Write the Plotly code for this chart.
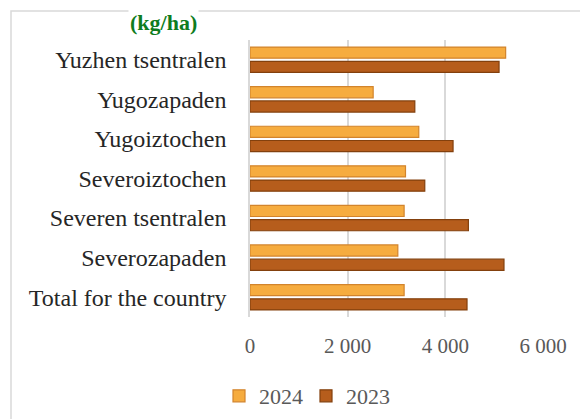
import plotly.graph_objects as go

regions = [
    "Total for the country",
    "Severozapaden",
    "Severen tsentralen",
    "Severoiztochen",
    "Yugoiztochen",
    "Yugozapaden",
    "Yuzhen tsentralen",
]
yield_2024 = [3156, 3027, 3156, 3184, 3456, 2522, 5235]
yield_2023 = [4444, 5201, 4472, 3579, 4158, 3375, 5100]

# the page body has an 8px margin, so work in page pixels and shift
OFF = 8
FIG_W, FIG_H = 588 - OFF, 419 - OFF
L, R, T, B = 250 - OFF, 543 - OFF, 40 - OFF, 317 - OFF
W, H = R - L, B - T


def px_x(p):
    return (p - OFF - L) / W


def px_y(p):
    return (B - (p - OFF)) / H


fig = go.Figure()

# 2023 first so it sits below 2024 inside each group
fig.add_trace(go.Bar(
    y=regions, x=yield_2023, name="2023", orientation="h",
    marker=dict(color="#B65D1C", line=dict(color="#83400D", width=1.2)),
))
fig.add_trace(go.Bar(
    y=regions, x=yield_2024, name="2024", orientation="h",
    marker=dict(color="#F6AC3F", line=dict(color="#D2842C", width=1.2)),
))

fig.update_layout(
    width=FIG_W,
    height=FIG_H,
    margin=dict(l=L, r=FIG_W - R, t=T, b=FIG_H - B, autoexpand=False),
    paper_bgcolor="white",
    plot_bgcolor="white",
    barmode="group",
    bargap=0.28,
    bargroupgap=0.22,
    separators=". ",
    font=dict(family="Liberation Serif, Times New Roman, serif", size=22, color="#595959"),
    showlegend=True,
    legend=dict(
        orientation="h",
        traceorder="reversed",
        x=px_x(219), xanchor="left",
        y=px_y(396), yanchor="middle",
        font=dict(size=22, color="#595959"),
        entrywidth=42,
        bgcolor="rgba(0,0,0,0)",
    ),
    shapes=[
        dict(
            type="rect", xref="paper", yref="paper",
            x0=px_x(11), x1=px_x(700), y0=px_y(600), y1=px_y(11),
            line=dict(color="#D9D9D9", width=1.5),
            fillcolor="rgba(0,0,0,0)", layer="below",
        )
    ],
    annotations=[
        dict(
            text="<b>(kg/ha)</b>", xref="paper", yref="paper",
            x=px_x(163), y=px_y(8), xanchor="center", yanchor="top",
            showarrow=False,
            bgcolor="white",
            font=dict(size=22, color="#0E7C20", family="Liberation Serif, Times New Roman, serif"),
        )
    ],
)

fig.update_xaxes(
    range=[0, 6000],
    dtick=2000,
    tickformat=",d",
    showgrid=True,
    gridcolor="#D9D9D9",
    gridwidth=1.5,
    zeroline=False,
    showline=False,
    ticks="",
    ticklabelstandoff=14,
    tickfont=dict(size=21, color="#595959"),
)
fig.update_yaxes(
    categoryorder="array",
    categoryarray=regions,
    showgrid=False,
    showline=True,
    linecolor="#D9D9D9",
    linewidth=1.5,
    ticks="",
    ticklabelstandoff=17,
    tickfont=dict(size=24, color="#262626"),
)

fig.write_html("out.html")
